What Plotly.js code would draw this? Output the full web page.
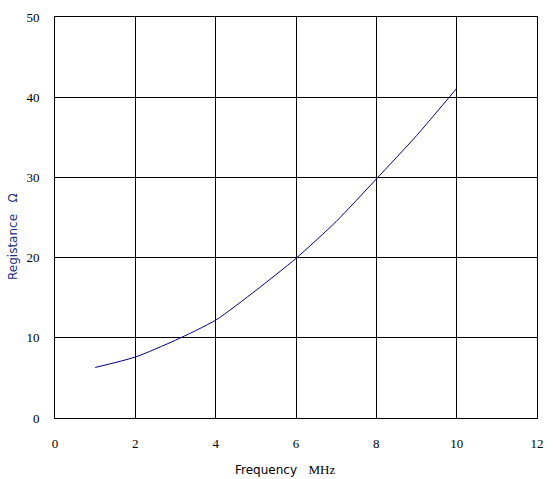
<!DOCTYPE html>
<html>
<head>
<meta charset="utf-8">
<script src="https://cdn.plot.ly/plotly-3.0.1.min.js"></script>
<style>html,body{margin:0;padding:0;background:#fff;}</style>
</head>
<body>
<div id="chart" style="width:553px;height:479px;"></div>
<script>
const frequencyMHz = [1, 2, 3, 4, 5, 6, 7, 8, 9, 10];
const resistanceOhm = [6.3, 7.6, 9.7, 12.2, 15.9, 19.9, 24.5, 29.8, 35.2, 41.1];
const xTicks = [0, 2, 4, 6, 8, 10, 12];
const yTicks = [0, 10, 20, 30, 40, 50];

const NB = '\u00A0';
const plotW = 553 - 55 - 16;
const plotH = 479 - 17 - 61;

const trace = {
  x: frequencyMHz,
  y: resistanceOhm,
  type: 'scatter',
  mode: 'lines',
  line: {color: '#000080', width: 1, shape: 'spline', smoothing: 0.6},
  hoverinfo: 'skip'
};

const layout = {
  width: 553,
  height: 479,
  margin: {l: 55, r: 16, t: 17, b: 61},
  paper_bgcolor: '#ffffff',
  plot_bgcolor: '#ffffff',
  showlegend: false,
  font: {family: 'Liberation Serif, serif', size: 13, color: '#000'},
  xaxis: {
    range: [0, 12],
    tickvals: xTicks,
    ticktext: xTicks.map(String),
    showgrid: true,
    gridcolor: '#000',
    gridwidth: 1,
    zeroline: false,
    showline: true,
    linecolor: '#000',
    linewidth: 1,
    mirror: true,
    ticks: '',
    ticklabelstandoff: 13,
    tickfont: {family: 'Liberation Serif', size: 13, color: '#000'},
    fixedrange: true
  },
  yaxis: {
    range: [0, 50],
    tickvals: yTicks,
    ticktext: yTicks.map(String),
    showgrid: true,
    gridcolor: '#000',
    gridwidth: 1,
    zeroline: false,
    showline: true,
    linecolor: '#000',
    linewidth: 1,
    mirror: true,
    ticks: '',
    ticklabelstandoff: 12,
    tickfont: {family: 'Liberation Serif', size: 13, color: '#000'},
    fixedrange: true
  },
  annotations: [
    {
      text: 'Frequency' + NB.repeat(3) + "<span style='font-family:Liberation Serif;font-size:13px'>MHz</span>",
      font: {family: 'DejaVu Sans, sans-serif', size: 12, color: '#000'},
      xref: 'paper', yref: 'paper',
      x: (285 - 55) / plotW, y: (418 - 469) / plotH,
      xanchor: 'center', yanchor: 'middle',
      showarrow: false
    },
    {
      text: 'Registance' + NB.repeat(3) + 'Ω',
      font: {family: 'DejaVu Sans, sans-serif', size: 12, color: '#1f2f7a'},
      textangle: -90,
      xref: 'paper', yref: 'paper',
      x: (13 - 55) / plotW, y: (418 - 237) / plotH,
      xanchor: 'center', yanchor: 'middle',
      showarrow: false
    }
  ]
};

Plotly.newPlot('chart', [trace], layout, {displayModeBar: false, staticPlot: true});
</script>
</body>
</html>
